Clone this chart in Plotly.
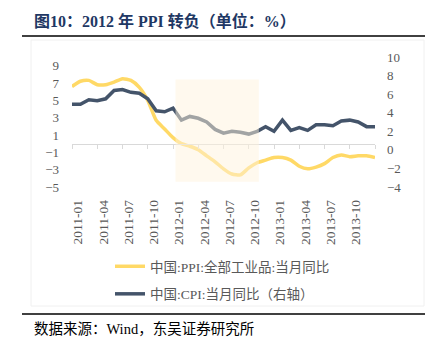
import plotly.graph_objects as go

months = ["2011-01","2011-02","2011-03","2011-04","2011-05","2011-06","2011-07","2011-08","2011-09","2011-10","2011-11","2011-12",
          "2012-01","2012-02","2012-03","2012-04","2012-05","2012-06","2012-07","2012-08","2012-09","2012-10","2012-11","2012-12",
          "2013-01","2013-02","2013-03","2013-04","2013-05","2013-06","2013-07","2013-08","2013-09","2013-10","2013-11","2013-12",
          "2014-01"]
ppi = [6.6, 7.2, 7.3, 6.8, 6.8, 7.1, 7.5, 7.3, 6.5, 5.0, 2.7, 1.7,
       0.7, 0.0, -0.3, -0.7, -1.4, -2.1, -2.9, -3.5, -3.6, -2.8, -2.2, -1.9,
       -1.6, -1.6, -1.9, -2.6, -2.9, -2.7, -2.3, -1.6, -1.3, -1.5, -1.4, -1.4,
       -1.6]
cpi = [4.9, 4.9, 5.4, 5.3, 5.5, 6.4, 6.5, 6.2, 6.1, 5.5, 4.2, 4.1,
       4.5, 3.2, 3.6, 3.4, 3.0, 2.2, 1.8, 2.0, 1.9, 1.7, 2.0, 2.5,
       2.0, 3.2, 2.1, 2.4, 2.1, 2.7, 2.7, 2.6, 3.1, 3.2, 3.0, 2.5,
       2.5]
tick_months = months[::3]
tick_text = [m if m != "2014-01" else "" for m in tick_months]
left_range = [-5, 10]
right_range = [-4, 10]
highlight = [12.3, 22.2, -4.4, 7.4]  # x0, x1 (category index), y0, y1 (left axis)

W, H = 434, 354
L, R, T, B = 72, 59, 57, 167
pw, ph = W - L - R, H - T - B

def px(x):
    return (x - L) / pw

def py(y):
    return (H - B - y) / ph

FONT = "Liberation Serif, Noto Sans CJK SC, serif"
GRAY = "#595959"

fig = go.Figure()
fig.add_trace(go.Scatter(x=months, y=ppi, mode="lines", name="中国:PPI:全部工业品:当月同比",
                         line=dict(color="#FFD966", width=3.5, shape="spline", smoothing=0.6),
                         legendgroup="a"))
fig.add_trace(go.Scatter(x=months, y=cpi, mode="lines", name="中国:CPI:当月同比（右轴）",
                         line=dict(color="#44546A", width=3.5), yaxis="y2", legendgroup="b"))

fig.add_shape(type="rect", xref="x", yref="y", x0=highlight[0], x1=highlight[1],
              y0=highlight[2], y1=highlight[3], fillcolor="rgba(255,243,221,0.5)",
              line=dict(width=0), layer="above")
# chart frame
fig.add_shape(type="rect", xref="paper", yref="paper", x0=px(31), x1=px(424), y0=py(306), y1=py(40),
              line=dict(color="#F0F0F0", width=1), layer="below")
# rules
for yy in (36, 314):
    fig.add_shape(type="line", xref="paper", yref="paper", x0=px(22), x1=px(425), y0=py(yy), y1=py(yy),
                  line=dict(color="#000000", width=1.5))

fig.add_annotation(text="<b>图10：2012 年 PPI 转负（单位：%）</b>", xref="paper", yref="paper",
                   x=px(32), y=py(21), xanchor="left", yanchor="middle", showarrow=False,
                   font=dict(family=FONT, size=16, color="#1F3864"))
fig.add_annotation(text="数据来源：Wind，东吴证券研究所", xref="paper", yref="paper",
                   x=px(32), y=py(329), xanchor="left", yanchor="middle", showarrow=False,
                   font=dict(family=FONT, size=14.5, color="#000000"))

zero_pos = (0 - left_range[0]) / (left_range[1] - left_range[0])

fig.update_layout(
    width=W, height=H, margin=dict(l=L, r=R, t=T, b=B, autoexpand=False),
    paper_bgcolor="white", plot_bgcolor="white",
    font=dict(family=FONT, size=13, color=GRAY),
    showlegend=True,
    legend=dict(x=px(110), y=py(251), xanchor="left", yanchor="top", orientation="v",
                tracegroupgap=7, font=dict(family=FONT, size=13.5, color=GRAY),
                bgcolor="rgba(0,0,0,0)"),
    xaxis=dict(type="category", categoryorder="array", categoryarray=months,
               range=[0, len(months) - 1], anchor="free", position=zero_pos,
               showline=True, linecolor="#D9D9D9", linewidth=1,
               ticks="outside", ticklen=4, tickcolor="#D9D9D9",
               tickvals=tick_months, ticktext=tick_text, tickangle=-90,
               ticklabelstandoff=46, ticklabelshift=6,
               showgrid=False, zeroline=False, automargin=False,
               tickfont=dict(family=FONT, size=13.5, color=GRAY)),
    yaxis=dict(range=left_range, tick0=-5, dtick=2, showgrid=False, zeroline=False,
               showline=False, ticks="", automargin=False, ticklabelstandoff=12,
               tickfont=dict(family=FONT, size=13, color=GRAY)),
    yaxis2=dict(range=right_range, tick0=-4, dtick=2, overlaying="y", side="right",
                showgrid=False, zeroline=False, showline=False, ticks="", automargin=False,
                ticklabelstandoff=11,
                tickfont=dict(family=FONT, size=13, color=GRAY)),
)

fig.write_html("out.html")
